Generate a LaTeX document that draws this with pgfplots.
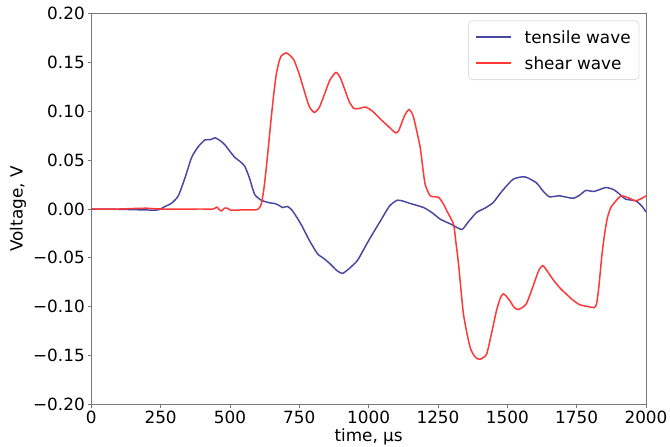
\documentclass[border=0pt]{standalone}
\usepackage{pgfplots}
\pgfplotsset{compat=1.18}
\usepackage{fontspec}
\setmainfont{DejaVu Sans}
\definecolor{tensile}{RGB}{72,72,160}
\definecolor{shear}{RGB}{255,55,55}
\definecolor{spine}{RGB}{120,120,120}
\begin{document}
\begin{tikzpicture}
\begin{axis}[
    scale only axis,
    width=280pt,
    height=197pt,
    xmin=0, xmax=2000,
    ymin=-0.2, ymax=0.2,
    xtick={0,250,...,2000},
    ytick={-0.2,-0.15,-0.1,-0.05,0,0.05,0.1,0.15,0.2},
    yticklabels={−0.20,−0.15,−0.10,−0.05,0.00,0.05,0.10,0.15,0.20},
    xticklabel style={/pgf/number format/.cd, fixed, 1000 sep={}},
    /pgf/number format/assume math mode=true,
    tick label style={font=\fontsize{8.5}{10}\selectfont, inner sep=1.3pt},
    label style={font=\fontsize{8.5}{10}\selectfont},
    xlabel={time, µs},
    ylabel={Voltage, V},
    xlabel style={inner ysep=1pt, yshift=0pt},
    ylabel style={inner ysep=5pt, yshift=-3pt},
    tick align=outside,
    major tick length=1.8pt,
    every tick/.style={spine},
    axis line style={spine},
    xtick pos=bottom, ytick pos=left,
    % legend drawn by hand (the legend matrix lost the second line colour)
    after end axis/.code={
      \path (rel axis cs:0,1) ++(0pt,7pt);
      \draw[gray!25, fill=white, rounded corners=2pt]
        (rel axis cs:1,1) ++(-89.6pt,-33.2pt) rectangle ++(86.1pt,29.7pt);
      \draw[tensile, line width=0.75pt] (rel axis cs:1,1) ++(-85.8pt,-11.7pt) -- ++(17.7pt,0pt);
      \draw[shear, line width=0.75pt] (rel axis cs:1,1) ++(-85.8pt,-24.7pt) -- ++(17.7pt,0pt);
      \node[anchor=west, inner sep=0pt, font=\fontsize{8.5}{10}\selectfont]
        at ([xshift=-61.4pt, yshift=-11.7pt]rel axis cs:1,1) {tensile wave};
      \node[anchor=west, inner sep=0pt, font=\fontsize{8.5}{10}\selectfont]
        at ([xshift=-61.4pt, yshift=-24.7pt]rel axis cs:1,1) {shear wave};
    },
]
\addplot[tensile, line width=0.75pt, smooth, tension=0.35] coordinates {
(0,0) (100,-0.0003) (200,-0.001) (240,-0.001) (250,0.000) (266,0.0026)
(290,0.006) (314,0.0136) (338,0.032) (362,0.053) (386,0.064) (410,0.0708)
(430,0.071) (446,0.073) (465,0.070) (481,0.066) (500,0.059) (517,0.053)
(535,0.049) (553,0.044) (570,0.032) (589,0.015) (613,0.009) (640,0.0065)
(661,0.0056) (675,0.004) (690,0.0015) (708,0.0026) (726,-0.002) (756,-0.0155)
(786,-0.032) (816,-0.046) (840,-0.051) (864,-0.057) (885,-0.063) (906,-0.066)
(930,-0.061) (959,-0.053) (985,-0.040) (1007,-0.029) (1043,-0.012) (1075,0.003)
(1103,0.009) (1125,0.008) (1151,0.0056) (1198,0.0015) (1230,-0.004) (1258,-0.0104)
(1300,-0.016) (1336,-0.021) (1360,-0.013) (1389,-0.0036) (1420,0.001) (1449,0.0066)
(1480,0.018) (1521,0.0305) (1563,0.033) (1604,0.027) (1630,0.018) (1652,0.0125)
(1688,0.0135) (1736,0.011) (1760,0.014) (1783,0.019) (1813,0.018) (1855,0.022)
(1885,0.0196) (1910,0.014) (1927,0.010) (1963,0.0084) (1985,0.003) (2000,-0.003)
};
\addplot[shear, line width=0.75pt, smooth, tension=0.35] coordinates {
(0,0) (100,0) (150,0.0005) (200,0.0008) (250,0) (400,0) (440,0)
(453,0.002) (462,-0.001) (470,-0.002) (480,0.0008) (490,0.001) (500,-0.001)
(513,-0.0012) (560,-0.0008) (600,-0.0005) (613,0.005) (622,0.02) (631,0.042)
(640,0.068) (649,0.094) (658,0.118) (667,0.138) (676,0.15) (685,0.157)
(703,0.160) (718,0.157) (732,0.152) (750,0.138) (768,0.121) (786,0.105)
(804,0.099) (822,0.104) (840,0.117) (860,0.132) (882,0.140) (897,0.135)
(912,0.124) (930,0.110) (947,0.103) (965,0.103) (989,0.1045) (1015,0.100)
(1043,0.092) (1070,0.085) (1097,0.078) (1108,0.080) (1115,0.085) (1130,0.096)
(1145,0.102) (1155,0.099) (1162,0.094) (1175,0.078) (1186,0.063) (1195,0.043)
(1204,0.025) (1222,0.0135) (1252,0.012) (1270,0.005) (1282,-0.002) (1306,-0.0155)
(1315,-0.035) (1324,-0.056) (1342,-0.108) (1366,-0.142) (1385,-0.152) (1401,-0.154)
(1425,-0.149) (1445,-0.125) (1461,-0.104) (1475,-0.091) (1485,-0.087) (1495,-0.089)
(1509,-0.094) (1525,-0.101) (1539,-0.103) (1554,-0.101) (1569,-0.097) (1588,-0.083)
(1604,-0.070) (1615,-0.062) (1628,-0.058) (1645,-0.064) (1664,-0.072) (1690,-0.081)
(1712,-0.087) (1735,-0.093) (1760,-0.098) (1790,-0.100) (1814,-0.101) (1822,-0.097)
(1830,-0.08) (1840,-0.05) (1849,-0.029) (1860,-0.010) (1873,0.0015) (1891,0.008)
(1903,0.012) (1915,0.0135) (1940,0.011) (1963,0.0084) (1985,0.011) (2000,0.0135)
};
\end{axis}
\end{tikzpicture}
\end{document}
